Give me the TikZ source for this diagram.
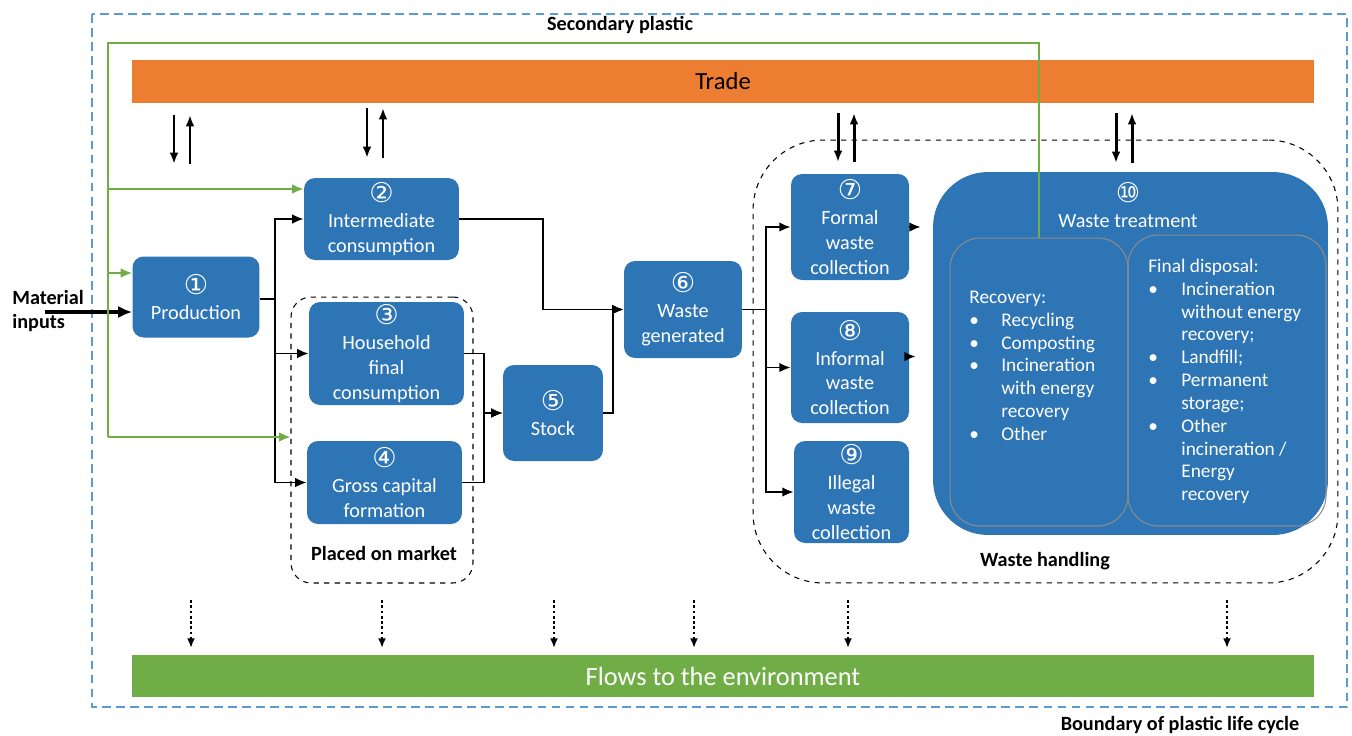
\documentclass[tikz,border=0pt]{standalone}
\usepackage{fontspec}
\setmainfont{Carlito}
\newfontfamily\circfont{DejaVu Sans}
\usetikzlibrary{arrows.meta}

\definecolor{boxblue}{HTML}{2E75B6}
\definecolor{tradeorange}{HTML}{ED7D31}
\definecolor{envgreen}{HTML}{70AD47}
\definecolor{lineblue}{HTML}{5B9BD5}
\definecolor{subgray}{HTML}{8C8C8C}

\newcommand{\cnum}[1]{{\circfont\fontsize{15.5}{15}\selectfont #1}}

\begin{document}
\begin{tikzpicture}
        [x=0.02cm, y=-0.02cm,
         proc/.style={fill=boxblue, rounded corners=0.22cm, text=white, align=center, inner sep=1pt, font=\fontsize{11.5}{14.2}\selectfont},
         group/.style={draw, dashed, line width=0.6pt},
         lbl/.style={font=\bfseries\fontsize{11.5}{14}\selectfont, inner sep=0},
         link/.style={line width=1.1pt},
         flow/.style={link, -{Latex[length=6.5pt,width=5.5pt]}},
         bigflow/.style={line width=1.8pt, -{Latex[length=8pt,width=7pt]}},
         tradeflow/.style={line width=1.7pt, -{Latex[length=6.5pt,width=5pt]}},
         envflow/.style={line width=1.3pt, dash pattern=on 1.6pt off 1.4pt, -{Latex[length=5.5pt,width=4.5pt]}},
         recyc/.style={envgreen, line width=1.1pt},
         recycflow/.style={recyc, -{Latex[length=6.5pt,width=5.5pt]}},
         listtxt/.style={text=white, inner sep=0, font=\fontsize{11}{13}\selectfont}]

        \useasboundingbox (0,0) rectangle (1352,735);

        % boundary of the life cycle
        \draw[lineblue, line width=1.1pt, dash pattern=on 5pt off 3pt] (92,14) rectangle (1347,707);
        \node[lbl] (bound) at (1180,725) {Boundary of plastic life cycle};
        \node[lbl] (sec) at (620,25) {Secondary plastic};

        % trade and environment bars
        \node[fill=tradeorange, minimum width=23.64cm, minimum height=0.86cm, font=\fontsize{14}{16}\selectfont] (trade) at (723,81) {Trade};
        \node[fill=envgreen, text=white, minimum width=23.64cm, minimum height=0.84cm, font=\fontsize{15}{17}\selectfont] (env) at (723,676) {Flows to the environment};

        % dashed groups
        \node[group, rounded corners=0.4cm, minimum width=3.64cm, minimum height=5.72cm] (pom) at (382,440) {};
        \node[lbl] (pomlbl) at (384,553) {Placed on market};
        \node[group, rounded corners=1.4cm, minimum width=11.7cm, minimum height=8.86cm] (wh) at (1045.5,361.5) {};
        \node[lbl] (whlbl) at (1045,561) {Waste handling};

        % process boxes
        \node[proc, minimum width=2.54cm, minimum height=1.62cm] (prod) at (196,297) {\cnum{①}\\Production};
        \node[proc, minimum width=3.1cm, minimum height=1.64cm] (ic) at (381.5,219) {\cnum{②}\\Intermediate\\consumption};
        \node[proc, minimum width=3.1cm, minimum height=2.06cm] (hh) at (386.5,353.5) {\cnum{③}\\Household\\final\\consumption};
        \node[proc, minimum width=3.1cm, minimum height=1.66cm] (gc) at (384.5,482.5) {\cnum{④}\\Gross capital\\formation};
        \node[proc, minimum width=2.0cm, minimum height=1.92cm] (st) at (553,413) {\cnum{⑤}\\Stock};
        \node[proc, minimum width=2.36cm, minimum height=1.94cm] (wg) at (683,309.5) {\cnum{⑥}\\Waste\\generated};
        \node[proc, minimum width=2.36cm, minimum height=2.12cm] (fw) at (850,227) {\cnum{⑦}\\Formal\\waste\\collection};
        \node[proc, minimum width=2.36cm, minimum height=2.22cm] (iw) at (850,367.5) {\cnum{⑧}\\Informal\\waste\\collection};
        \node[proc, minimum width=2.3cm, minimum height=2.04cm] (lw) at (851.5,492) {\cnum{⑨}\\Illegal\\waste\\collection};

        % waste treatment
        \node[proc, rounded corners=1.1cm, minimum width=7.9cm, minimum height=7.26cm] (wt) at (1130.5,353.5) {};
        \node[proc, fill=none] (wttl) at (1128,205) {\cnum{⑩}\\Waste treatment};
        \node[draw=subgray, line width=0.6pt, rounded corners=0.6cm, minimum width=3.56cm, minimum height=5.76cm] (rec) at (1039,382) {};
        \node[draw=subgray, line width=0.6pt, rounded corners=0.6cm, minimum width=3.96cm, minimum height=5.82cm] (fd) at (1227,380.5) {};
        \node[listtxt, anchor=north west] (rectxt) at (969,287) {%
          \begin{tabular}{@{}p{0.64cm}@{}l@{}}
          \multicolumn{2}{@{}l@{}}{Recovery:}\\
          \textbullet & Recycling\\
          \textbullet & Composting\\
          \textbullet & Incineration\\
                      & with energy\\
                      & recovery\\
          \textbullet & Other
          \end{tabular}};
        \node[listtxt, anchor=north west] (fdtxt) at (1148,256) {%
          \begin{tabular}{@{}p{0.66cm}@{}l@{}}
          \multicolumn{2}{@{}l@{}}{Final disposal:}\\
          \textbullet & Incineration\\
                      & without energy\\
                      & recovery;\\
          \textbullet & Landfill;\\
          \textbullet & Permanent\\
                      & storage;\\
          \textbullet & Other\\
                      & incineration /\\
                      & Energy\\
                      & recovery
          \end{tabular}};

        % material input
        \node[lbl, anchor=west, align=left, font=\bfseries\fontsize{11.5}{14.2}\selectfont] (mi) at (12,311) {Material\\inputs};
        \coordinate (mistart) at (45,312);
        \draw[bigflow] (mistart) -- (mistart -| prod.west);

        % flows between boxes
        \coordinate (jp) at (275,299);
        \draw[link] (prod.east |- jp) -- (jp);
        \draw[flow] (jp) |- (ic.west);
        \draw[flow] (jp) |- (hh.west);
        \draw[flow] (jp) |- (gc.west);
        \draw[flow] (ic.east) -- ++(84,0) |- (wg.west);
        \draw[flow] (hh.east) -- ++(20,0) |- (st.west);
        \draw[flow] (gc.east) -- ++(22,0) |- (st.west);
        \draw[flow] (st.east) -- ++(10,0) |- (wg.west);
        \coordinate (jw) at (766,309.5);
        \draw[link] (wg.east) -- (jw);
        \draw[flow] (jw) |- (fw.west);
        \draw[flow] (jw) |- (iw.west);
        \draw[flow] (jw) |- (lw.west);
        \draw[flow, shorten >=0.24cm] (fw.east) -- (fw.east -| wt.west);
        \draw[flow, shorten >=0.34cm] ([yshift=0.22cm]iw.east) -- ([yshift=0.22cm]iw.east -| wt.west);

        % secondary plastic
        \coordinate (gtop) at (108,43);
        \coordinate (g1) at (108,273);
        \coordinate (g2) at (108,189);
        \coordinate (g3) at (108,437);
        \draw[recyc] (rec.north) |- (gtop) -- (g3);
        \draw[recycflow] (g1) -- (g1 -| prod.west);
        \draw[recycflow] (g2) -- (g2 -| ic.west);
        \draw[recycflow] (g3) -- (g3 -| pom.west);

        % trade in and out
        \foreach \x/\a/\b in {174/115/164, 367/108/158, 838/113/162, 1116/113/163}
        {
          \draw[tradeflow] (\x,\a) -- (\x,\b);
          \draw[tradeflow] (\x+16,\b) -- (\x+16,\a);
        }

        % losses to the environment
        \foreach \x in {191,382,554,694,848,1227}
          \draw[envflow] (\x,600) -- (\x,648);

      \end{tikzpicture}
\end{document}
